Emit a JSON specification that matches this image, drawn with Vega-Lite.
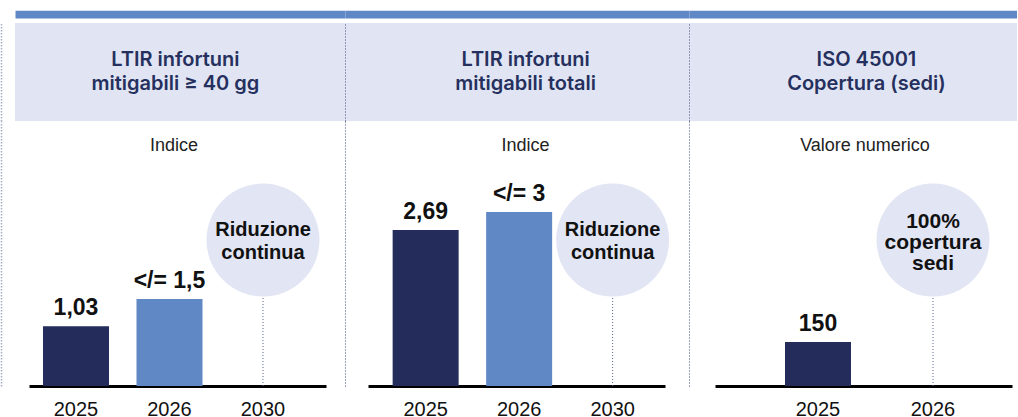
{
  "$schema": "https://vega.github.io/schema/vega-lite/v6.json",
  "padding": {"left": 1, "top": 14, "right": 0, "bottom": 0},
  "background": "white",
  "columns": 3,
  "spacing": 0,
  "bounds": "flush",
  "align": "each",
  "config": {
    "view": {"stroke": null},
    "font": "Liberation Sans",
    "axisX": {"domainColor": "#000000", "domainWidth": 3, "ticks": false, "grid": false, "labelFontSize": 20, "labelColor": "#111111", "labelPadding": 13, "labelAngle": 0, "labelFont": "Liberation Sans"},
    "axisY": {"ticks": false, "labels": false, "grid": false}
  },
  "concat": [
    {
      "width": 330, "height": 98,
      "view": {"fill": "#e1e5f3", "stroke": null},
      "data": {"values": [{"title": "LTIR infortuni\nmitigabili ≥ 40 gg"}]},
      "mark": {"type": "text", "font": "Inter", "fontWeight": 600, "fontSize": 20, "baseline": "middle", "align": "center", "lineBreak": "\n", "lineHeight": 24, "dy": -12, "color": "#25305e"},
      "encoding": {
        "x": {"datum": 0.486, "type": "quantitative", "scale": {"domain": [0, 1]}, "axis": {"orient": "top", "domainColor": "#6088c6", "domainWidth": 7.7, "offset": 8.85, "labels": false, "ticks": false, "grid": false, "title": null}},
        "y": {"datum": 0.5, "type": "quantitative", "scale": {"domain": [0, 1]}, "axis": {"domainColor": "#a9adc4", "domainDash": [1.5, 1.5], "domainWidth": 1.5, "offset": 14, "title": null}},
        "text": {"field": "title"}
      }
    },
    {
      "width": 344, "height": 98,
      "view": {"fill": "#e1e5f3", "stroke": null},
      "data": {"values": [{"title": "LTIR infortuni\nmitigabili totali"}]},
      "mark": {"type": "text", "font": "Inter", "fontWeight": 600, "fontSize": 20, "baseline": "middle", "align": "center", "lineBreak": "\n", "lineHeight": 24, "dy": -12, "color": "#25305e"},
      "encoding": {
        "x": {"datum": 0.525, "type": "quantitative", "scale": {"domain": [0, 1]}, "axis": {"orient": "top", "domainColor": "#6088c6", "domainWidth": 7.7, "offset": 8.85, "labels": false, "ticks": false, "grid": false, "title": null}},
        "y": {"datum": 0.5, "type": "quantitative", "scale": {"domain": [0, 1]}, "axis": {"domainColor": "#3d4778", "domainDash": [1, 2], "domainWidth": 1, "offset": 0, "title": null}},
        "text": {"field": "title"}
      }
    },
    {
      "width": 328, "height": 98,
      "view": {"fill": "#e1e5f3", "stroke": null},
      "data": {"values": [{"title": "ISO 45001\nCopertura (sedi)"}]},
      "mark": {"type": "text", "font": "Inter", "fontWeight": 600, "fontSize": 20, "baseline": "middle", "align": "center", "lineBreak": "\n", "lineHeight": 24, "dy": -12, "color": "#25305e"},
      "encoding": {
        "x": {"datum": 0.541, "type": "quantitative", "scale": {"domain": [0, 1]}, "axis": {"orient": "top", "domainColor": "#6088c6", "domainWidth": 7.7, "offset": 8.85, "labels": false, "ticks": false, "grid": false, "title": null}},
        "y": {"datum": 0.5, "type": "quantitative", "scale": {"domain": [0, 1]}, "axis": {"domainColor": "#3d4778", "domainDash": [1, 2], "domainWidth": 1, "offset": 0, "title": null}},
        "text": {"field": "title"}
      }
    },
    {
      "width": 330, "height": 265,
      "title": {"text": "Indice", "fontSize": 18, "fontWeight": "normal", "font": "Liberation Sans", "color": "#222222", "offset": -34, "frame": "group", "anchor": "middle", "dx": -6},
      "data": {"values": [
        {"year": "2025", "value": 1.03, "label": "1,03"},
        {"year": "2026", "value": 1.5, "label": "</= 1,5"},
        {"year": "2030", "target": "Riduzione\ncontinua"}
      ]},
      "encoding": {
        "x": {"field": "year", "type": "nominal", "title": null, "scale": {"range": [14, 311], "paddingInner": 0.2941, "paddingOuter": 0.2353, "align": 0.318}}
      },
      "layer": [
        {
          "transform": [{"filter": "isValid(datum.target)"}],
          "mark": {"type": "rule", "color": "#5b6490", "strokeDash": [1, 2], "strokeWidth": 1},
          "encoding": {
            "y": {"datum": 0, "type": "quantitative", "scale": {"domain": [0, 4.569], "nice": false}, "axis": {"domainColor": "#a9adc4", "domainDash": [1.5, 1.5], "domainWidth": 1.5, "offset": 14, "title": null}},
            "y2": {"datum": 2.517}
          }
        },
        {
          "transform": [{"filter": "isValid(datum.value)"}],
          "mark": {"type": "bar"},
          "encoding": {
            "y": {"field": "value", "type": "quantitative", "scale": {"domain": [0, 4.569], "nice": false}, "axis": {"domainColor": "#a9adc4", "domainDash": [1.5, 1.5], "domainWidth": 1.5, "offset": 14, "title": null}},
            "color": {"field": "year", "type": "nominal", "scale": {"domain": ["2025", "2026"], "range": ["#232c5b", "#6088c5"]}, "legend": null}
          }
        },
        {
          "transform": [{"filter": "isValid(datum.value)"}],
          "mark": {"type": "text", "fontSize": 23, "fontWeight": "bold", "baseline": "alphabetic", "dy": -11, "color": "#111111"},
          "encoding": {
            "y": {"field": "value", "type": "quantitative", "scale": {"domain": [0, 4.569], "nice": false}, "axis": {"domainColor": "#a9adc4", "domainDash": [1.5, 1.5], "domainWidth": 1.5, "offset": 14, "title": null}},
            "text": {"field": "label"}
          }
        },
        {
          "transform": [{"filter": "isValid(datum.target)"}],
          "mark": {"type": "circle", "size": 12770, "color": "#e2e5f3", "opacity": 1},
          "encoding": {
            "y": {"datum": 2.517, "type": "quantitative", "scale": {"domain": [0, 4.569], "nice": false}, "axis": {"domainColor": "#a9adc4", "domainDash": [1.5, 1.5], "domainWidth": 1.5, "offset": 14, "title": null}}
          }
        },
        {
          "transform": [{"filter": "isValid(datum.target)"}],
          "mark": {"type": "text", "fontSize": 20, "fontWeight": "bold", "lineBreak": "\n", "lineHeight": 23.4, "baseline": "middle", "dy": -10, "color": "#111111"},
          "encoding": {
            "y": {"datum": 2.517, "type": "quantitative", "scale": {"domain": [0, 4.569], "nice": false}, "axis": {"domainColor": "#a9adc4", "domainDash": [1.5, 1.5], "domainWidth": 1.5, "offset": 14, "title": null}},
            "text": {"field": "target"}
          }
        }
      ]
    },
    {
      "width": 344, "height": 265,
      "title": {"text": "Indice", "fontSize": 18, "fontWeight": "normal", "font": "Liberation Sans", "color": "#222222", "offset": -34, "frame": "group", "anchor": "middle", "dx": 8.5},
      "data": {"values": [
        {"year": "2025", "value": 2.69, "label": "2,69"},
        {"year": "2026", "value": 3, "label": "</= 3"},
        {"year": "2030", "target": "Riduzione\ncontinua"}
      ]},
      "encoding": {
        "x": {"field": "year", "type": "nominal", "title": null, "scale": {"range": [23, 320], "paddingInner": 0.2941, "paddingOuter": 0.2353, "align": 0.56}}
      },
      "layer": [
        {
          "transform": [{"filter": "isValid(datum.target)"}],
          "mark": {"type": "rule", "color": "#5b6490", "strokeDash": [1, 2], "strokeWidth": 1},
          "encoding": {
            "y": {"datum": 0, "type": "quantitative", "scale": {"domain": [0, 4.569], "nice": false}, "axis": {"domainColor": "#3d4778", "domainDash": [1, 2], "domainWidth": 1, "offset": 0, "title": null}},
            "y2": {"datum": 2.517}
          }
        },
        {
          "transform": [{"filter": "isValid(datum.value)"}],
          "mark": {"type": "bar"},
          "encoding": {
            "y": {"field": "value", "type": "quantitative", "scale": {"domain": [0, 4.569], "nice": false}, "axis": {"domainColor": "#3d4778", "domainDash": [1, 2], "domainWidth": 1, "offset": 0, "title": null}},
            "color": {"field": "year", "type": "nominal", "scale": {"domain": ["2025", "2026"], "range": ["#232c5b", "#6088c5"]}, "legend": null}
          }
        },
        {
          "transform": [{"filter": "isValid(datum.value)"}],
          "mark": {"type": "text", "fontSize": 23, "fontWeight": "bold", "baseline": "alphabetic", "dy": -11, "color": "#111111"},
          "encoding": {
            "y": {"field": "value", "type": "quantitative", "scale": {"domain": [0, 4.569], "nice": false}, "axis": {"domainColor": "#3d4778", "domainDash": [1, 2], "domainWidth": 1, "offset": 0, "title": null}},
            "text": {"field": "label"}
          }
        },
        {
          "transform": [{"filter": "isValid(datum.target)"}],
          "mark": {"type": "circle", "size": 12770, "color": "#e2e5f3", "opacity": 1},
          "encoding": {
            "y": {"datum": 2.517, "type": "quantitative", "scale": {"domain": [0, 4.569], "nice": false}, "axis": {"domainColor": "#3d4778", "domainDash": [1, 2], "domainWidth": 1, "offset": 0, "title": null}}
          }
        },
        {
          "transform": [{"filter": "isValid(datum.target)"}],
          "mark": {"type": "text", "fontSize": 20, "fontWeight": "bold", "lineBreak": "\n", "lineHeight": 23.4, "baseline": "middle", "dy": -10, "color": "#111111"},
          "encoding": {
            "y": {"datum": 2.517, "type": "quantitative", "scale": {"domain": [0, 4.569], "nice": false}, "axis": {"domainColor": "#3d4778", "domainDash": [1, 2], "domainWidth": 1, "offset": 0, "title": null}},
            "text": {"field": "target"}
          }
        }
      ]
    },
    {
      "width": 328, "height": 265,
      "title": {"text": "Valore numerico", "fontSize": 18, "fontWeight": "normal", "font": "Liberation Sans", "color": "#222222", "offset": -34, "frame": "group", "anchor": "middle", "dx": 12},
      "data": {"values": [
        {"year": "2025", "value": 150, "label": "150"},
        {"year": "2026", "target": "100%\ncopertura\nsedi"}
      ]},
      "encoding": {
        "x": {"field": "year", "type": "nominal", "title": null, "scale": {"range": [26, 323], "paddingInner": 0.4261, "paddingOuter": 0.5043, "align": 0.6034}}
      },
      "layer": [
        {
          "transform": [{"filter": "isValid(datum.target)"}],
          "mark": {"type": "rule", "color": "#5b6490", "strokeDash": [1, 2], "strokeWidth": 1},
          "encoding": {
            "y": {"datum": 0, "type": "quantitative", "scale": {"domain": [0, 903.5], "nice": false}, "axis": {"domainColor": "#3d4778", "domainDash": [1, 2], "domainWidth": 1, "offset": 0, "title": null}},
            "y2": {"datum": 498}
          }
        },
        {
          "transform": [{"filter": "isValid(datum.value)"}],
          "mark": {"type": "bar"},
          "encoding": {
            "y": {"field": "value", "type": "quantitative", "scale": {"domain": [0, 903.5], "nice": false}, "axis": {"domainColor": "#3d4778", "domainDash": [1, 2], "domainWidth": 1, "offset": 0, "title": null}},
            "color": {"field": "year", "type": "nominal", "scale": {"domain": ["2025", "2026"], "range": ["#232c5b", "#6088c5"]}, "legend": null}
          }
        },
        {
          "transform": [{"filter": "isValid(datum.value)"}],
          "mark": {"type": "text", "fontSize": 23, "fontWeight": "bold", "baseline": "alphabetic", "dy": -11, "color": "#111111"},
          "encoding": {
            "y": {"field": "value", "type": "quantitative", "scale": {"domain": [0, 903.5], "nice": false}, "axis": {"domainColor": "#3d4778", "domainDash": [1, 2], "domainWidth": 1, "offset": 0, "title": null}},
            "text": {"field": "label"}
          }
        },
        {
          "transform": [{"filter": "isValid(datum.target)"}],
          "mark": {"type": "circle", "size": 12770, "color": "#e2e5f3", "opacity": 1},
          "encoding": {
            "y": {"datum": 498, "type": "quantitative", "scale": {"domain": [0, 903.5], "nice": false}, "axis": {"domainColor": "#3d4778", "domainDash": [1, 2], "domainWidth": 1, "offset": 0, "title": null}}
          }
        },
        {
          "transform": [{"filter": "isValid(datum.target)"}],
          "mark": {"type": "text", "fontSize": 21, "fontWeight": "bold", "lineBreak": "\n", "lineHeight": 21, "baseline": "middle", "dy": -18, "color": "#111111"},
          "encoding": {
            "y": {"datum": 498, "type": "quantitative", "scale": {"domain": [0, 903.5], "nice": false}, "axis": {"domainColor": "#3d4778", "domainDash": [1, 2], "domainWidth": 1, "offset": 0, "title": null}},
            "text": {"field": "target"}
          }
        }
      ]
    }
  ]
}
